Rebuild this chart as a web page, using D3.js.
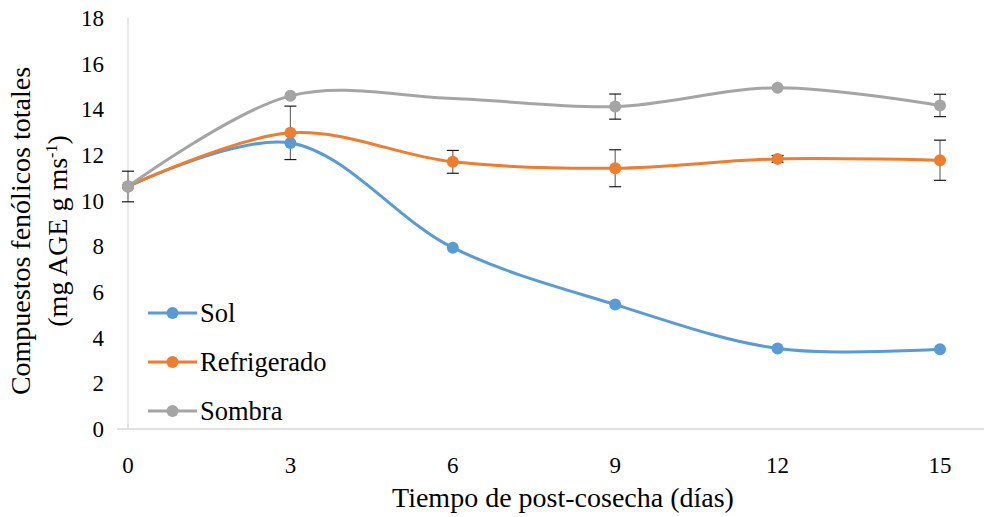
<!DOCTYPE html>
<html>
<head>
<meta charset="utf-8">
<script src="https://cdn.jsdelivr.net/npm/d3@7/dist/d3.min.js"></script>
<style>
  html, body { margin: 0; padding: 0; background: #fff; }
  svg { display: block; }
</style>
</head>
<body>
<svg id="chart" width="984" height="517"></svg>
<script>
// Días de post-cosecha
const dias = [0, 3, 6, 9, 12, 15];
const yTicks = [0, 2, 4, 6, 8, 10, 12, 14, 16, 18];

// Compuestos fenólicos totales (mg AGE g ms-1) por tratamiento
const sol =         [10.62, 12.53, 7.94, 5.45, 3.53, 3.49];
const refrigerado = [10.62, 12.97, 11.70, 11.42, 11.83, 11.77];
const sombra =      [10.62, 14.59, 14.47, 14.12, 14.95, 14.17];

// Desviación (barras de error); null = sin barra
const solErr =         [null, null, null, null, null, null];
const refrigeradoErr = [null, 1.17, 0.50, 0.81, 0.15, 0.88];
const sombraErr =      [0.67, null, null, 0.55, null, 0.49];

// Puntos sin marcador
const sombraMarcador = [true, true, false, true, true, true];

const series = [
  { name: "Sol", values: sol, err: solErr, color: "#5b9bd5" },
  { name: "Refrigerado", values: refrigerado, err: refrigeradoErr, color: "#ed7d31" },
  { name: "Sombra", values: sombra, err: sombraErr, color: "#a5a5a5", marker: sombraMarcador }
];

const svg = d3.select("#chart");
const FONT = "\"Times New Roman\", \"Liberation Serif\", \"DejaVu Serif\", serif";
const axisColor = "#d9d9d9";
const tickSize = 23;
const legendSize = 26.5;
const titleSize = 28;

// x: 0 → 128 px, 15 → 940 px
const pxPerDay = (940 - 128) / 15;
const x = d3.scaleLinear().domain([-0.2, 15.9]).range([128 - 0.2 * pxPerDay, 128 + 15.9 * pxPerDay]);
const y = d3.scaleLinear().domain([0, 18]).range([429, 18]);

function txt(sel) {
  return sel.style("font-family", FONT).attr("fill", "#000");
}

// Ejes
svg.append("line")
  .attr("x1", x(0)).attr("x2", x(0))
  .attr("y1", y(18)).attr("y2", y(0))
  .attr("stroke", axisColor).attr("stroke-width", 1.3);
svg.append("line")
  .attr("x1", x(-0.2)).attr("x2", x(15.9))
  .attr("y1", y(0)).attr("y2", y(0))
  .attr("stroke", axisColor).attr("stroke-width", 1.3);

// Etiquetas del eje Y
txt(svg.append("g").selectAll("text").data(yTicks).join("text"))
  .attr("x", 104).attr("y", d => y(d))
  .attr("dy", "0.35em")
  .attr("text-anchor", "end")
  .style("font-size", tickSize + "px")
  .text(d => d);

// Etiquetas del eje X
txt(svg.append("g").selectAll("text").data(dias).join("text"))
  .attr("x", d => x(d)).attr("y", 473)
  .attr("text-anchor", "middle")
  .style("font-size", tickSize + "px")
  .text(d => d);

// Título eje X
txt(svg.append("text"))
  .attr("x", 563).attr("y", 507)
  .attr("text-anchor", "middle")
  .style("font-size", titleSize + "px")
  .text("Tiempo de post-cosecha (días)");

// Título eje Y (dos líneas)
const yTitle = svg.append("g").attr("transform", "translate(0,231) rotate(-90)");
txt(yTitle.append("text"))
  .attr("x", 0).attr("y", 30)
  .attr("text-anchor", "middle")
  .style("font-size", titleSize + "px")
  .text("Compuestos fenólicos totales");
const t2 = txt(yTitle.append("text"))
  .attr("x", 0).attr("y", 67)
  .attr("text-anchor", "middle")
  .style("font-size", titleSize + "px");
t2.append("tspan").text("(mg AGE g ms");
t2.append("tspan").attr("dy", -10).style("font-size", "16px").text("-1");
t2.append("tspan").attr("dy", 10).text(")");

// Barras de error
const capW = 6;
series.forEach(s => {
  const g = svg.append("g");
  s.values.forEach((v, i) => {
    const e = s.err[i];
    if (e == null) return;
    const cx = x(dias[i]);
    g.append("line")
      .attr("x1", cx).attr("x2", cx)
      .attr("y1", y(v + e)).attr("y2", y(v - e))
      .attr("stroke", "#6f6f6f").attr("stroke-width", 1.2);
    [v + e, v - e].forEach(yy => {
      g.append("line")
        .attr("x1", cx - capW).attr("x2", cx + capW)
        .attr("y1", y(yy)).attr("y2", y(yy))
        .attr("stroke", "#1a1a1a").attr("stroke-width", 1.2);
    });
  });
});

// Líneas suavizadas
const line = d3.line()
  .x((d, i) => x(dias[i]))
  .y(d => y(d))
  .curve(d3.curveCatmullRom.alpha(0.5));

series.forEach(s => {
  svg.append("path")
    .datum(s.values)
    .attr("d", line)
    .attr("fill", "none")
    .attr("stroke", s.color)
    .attr("stroke-width", 3)
    .attr("stroke-linecap", "round");
});

// Marcadores
series.forEach(s => {
  svg.append("g").selectAll("circle")
    .data(s.values.map((v, i) => ({ v, i })).filter(d => !s.marker || s.marker[d.i]))
    .join("circle")
    .attr("cx", d => x(dias[d.i]))
    .attr("cy", d => y(d.v))
    .attr("r", 6)
    .attr("fill", s.color);
});

// Leyenda
const legendY = [313, 362, 411];
const legend = svg.append("g");
series.forEach((s, k) => {
  const ly = legendY[k];
  legend.append("line")
    .attr("x1", 148).attr("x2", 197)
    .attr("y1", ly).attr("y2", ly)
    .attr("stroke", s.color).attr("stroke-width", 3);
  legend.append("circle")
    .attr("cx", 172.5).attr("cy", ly).attr("r", 6)
    .attr("fill", s.color);
  txt(legend.append("text"))
    .attr("x", 200).attr("y", ly)
    .attr("dy", "0.35em")
    .style("font-size", legendSize + "px")
    .text(s.name);
});
</script>
</body>
</html>
